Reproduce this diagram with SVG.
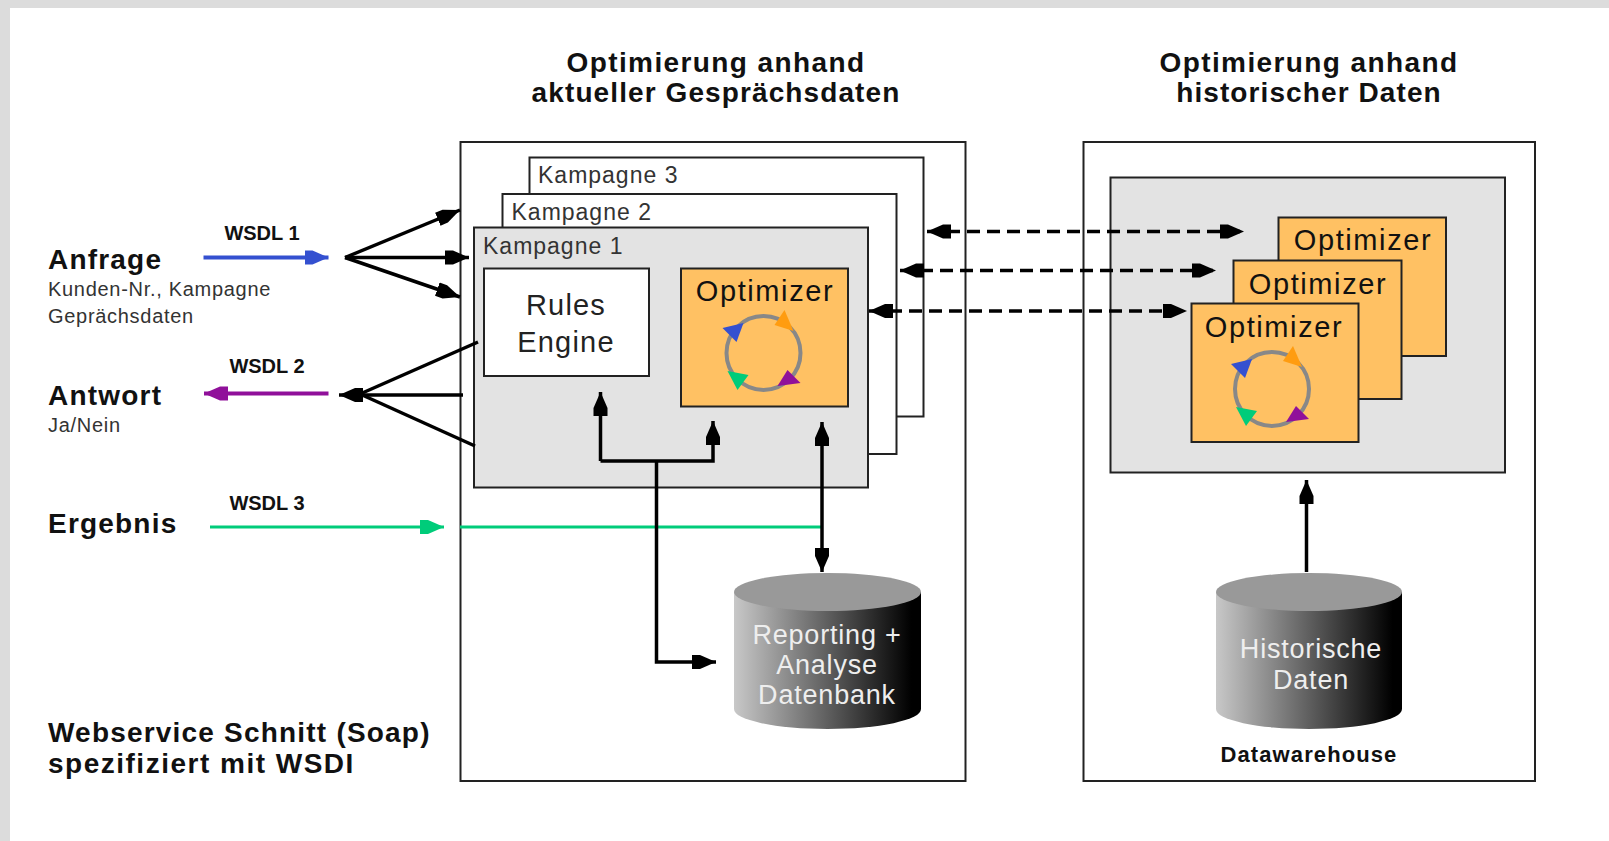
<svg xmlns="http://www.w3.org/2000/svg" xmlns:xlink="http://www.w3.org/1999/xlink" width="1609" height="841" viewBox="0 0 1609 841">
<style>
text{font-family:"Liberation Sans",Arial,sans-serif;fill:#111}
.h{font-weight:bold;font-size:28px;text-anchor:middle;letter-spacing:1.4px}
.h2{letter-spacing:1.1px}
.b{font-weight:bold;font-size:28px;letter-spacing:1.2px}
.s{font-size:20px;fill:#333;letter-spacing:.7px}
.w{font-weight:bold;font-size:20px;text-anchor:middle}
.k{font-size:23px;fill:#333;letter-spacing:1px}
.o{font-size:29px;text-anchor:middle;letter-spacing:1.6px}
.r{font-size:29px;text-anchor:middle;fill:#222;letter-spacing:1.2px}
.d{font-size:27px;text-anchor:middle;fill:#eee;letter-spacing:.8px}
.box{stroke:#222;stroke-width:2}
.wh{fill:#fff}.gr{fill:#e3e3e3}.or{fill:#ffc163}
.ln{fill:none;stroke:#000;stroke-width:3.5}
.da{stroke-dasharray:13 7}
.blue{stroke:#3450d0;stroke-width:4;fill:none}
.pur{stroke:#90109a;stroke-width:4;fill:none}
.grn{stroke:#00cc7a;stroke-width:3;fill:none}
.ring{fill:none;stroke:#888;stroke-width:4}
</style>
<defs>
<marker id="ak" markerUnits="userSpaceOnUse" markerWidth="26" markerHeight="18" refX="24" refY="9" orient="auto-start-reverse"><path d="M0 2 L8 2 L24 9 L8 16 L0 16Z" fill="#000"/></marker>
<marker id="ab" markerUnits="userSpaceOnUse" markerWidth="26" markerHeight="18" refX="24" refY="9" orient="auto"><path d="M0 2 L8 2 L24 9 L8 16 L0 16Z" fill="#3450d0"/></marker>
<marker id="ap" markerUnits="userSpaceOnUse" markerWidth="26" markerHeight="18" refX="24" refY="9" orient="auto"><path d="M0 2 L8 2 L24 9 L8 16 L0 16Z" fill="#90109a"/></marker>
<marker id="ag" markerUnits="userSpaceOnUse" markerWidth="26" markerHeight="18" refX="24" refY="9" orient="auto"><path d="M0 2 L8 2 L24 9 L8 16 L0 16Z" fill="#00cc7a"/></marker>
<linearGradient id="cyl" x1="0" x2="1" y1="0" y2="0"><stop offset="0" stop-color="#c8c8c8"/><stop offset="0.95" stop-color="#000"/><stop offset="1" stop-color="#000"/></linearGradient>
<g id="loop">
<circle cx="0" cy="0" r="37" class="ring"/>
<path d="M-41 -25 L-20 -30 L-27 -11Z" fill="#3450d0"/>
<path d="M21 -43 L30 -22 L11 -28Z" fill="#ff9c10"/>
<path d="M24 17 L37 30 L14 33Z" fill="#90109a"/>
<path d="M-36 18 L-15 22 L-26 37Z" fill="#00cc7a"/>
</g>
</defs>
<rect width="1609" height="841" fill="#fff"/>
<rect width="1609" height="8" fill="#dcdcdc"/>
<rect width="10" height="841" fill="#dcdcdc"/>

<g id="title-left"><text class="h" x="716" y="72">Optimierung anhand</text><text class="h h2" x="716" y="102">aktueller Gesprächsdaten</text></g>
<g id="title-right"><text class="h" x="1309" y="72">Optimierung anhand</text><text class="h h2" x="1309" y="102">historischer Daten</text></g>

<g id="box-main"><rect class="box wh" x="460.5" y="142" width="505" height="639"/></g>
<g id="box-hist"><rect class="box wh" x="1083.5" y="142" width="451.5" height="639"/></g>

<g id="kampagne-3"><rect class="box wh" x="529.5" y="157.5" width="394" height="259"/><text class="k" x="538" y="183">Kampagne 3</text></g>
<g id="kampagne-2"><rect class="box wh" x="502.5" y="194" width="394" height="260"/><text class="k" x="511.5" y="220">Kampagne 2</text></g>
<g id="kampagne-1"><rect class="box gr" x="474" y="227.5" width="394" height="260"/><text class="k" x="483" y="254">Kampagne 1</text></g>

<g id="rules-engine"><rect class="box wh" x="484" y="268.5" width="165" height="107.5"/><text class="r" x="566" y="315">Rules</text><text class="r" x="566" y="352">Engine</text></g>
<g id="optimizer-main"><rect class="box or" x="681" y="268.5" width="167" height="138"/><text class="o" x="765" y="301">Optimizer</text><use xlink:href="#loop" href="#loop" x="763.5" y="353"/></g>

<g id="hist-pool"><rect class="box gr" x="1110.5" y="177.5" width="394.5" height="295"/></g>
<g id="optimizer-3"><rect class="box or" x="1278.5" y="217.5" width="167.5" height="138.5"/><text class="o" x="1363" y="250">Optimizer</text></g>
<g id="optimizer-2"><rect class="box or" x="1233.5" y="260.5" width="168" height="138.5"/><text class="o" x="1318" y="294">Optimizer</text></g>
<g id="optimizer-1"><rect class="box or" x="1191.5" y="303.5" width="167" height="138.5"/><text class="o" x="1274" y="337">Optimizer</text><use xlink:href="#loop" href="#loop" x="1272" y="389"/></g>

<g id="db-reporting"><path d="M734 592 V709 A93.5 20 0 0 0 921 709 V592Z" fill="url(#cyl)"/><ellipse cx="827.5" cy="592" rx="93.5" ry="19" fill="#999"/><text class="d" x="827" y="644">Reporting +</text><text class="d" x="827" y="674">Analyse</text><text class="d" x="827" y="704">Datenbank</text></g>
<g id="db-hist"><path d="M1216 592 V709 A93 20 0 0 0 1402 709 V592Z" fill="url(#cyl)"/><ellipse cx="1309" cy="592" rx="93" ry="19" fill="#999"/><text class="d" x="1311" y="658">Historische</text><text class="d" x="1311" y="689">Daten</text></g>
<g id="dw-label"><text x="1309" y="762" style="font-weight:bold;font-size:22px;text-anchor:middle;letter-spacing:1.1px">Datawarehouse</text></g>

<g id="labels">
<text class="b" x="48" y="269">Anfrage</text>
<text class="s" x="48" y="296">Kunden-Nr., Kampagne</text>
<text class="s" x="48" y="323">Geprächsdaten</text>
<text class="b" x="48" y="405">Antwort</text>
<text class="s" x="48" y="432">Ja/Nein</text>
<text class="b" x="48" y="533">Ergebnis</text>
<text class="w" x="262" y="240">WSDL 1</text>
<text class="w" x="267" y="373">WSDL 2</text>
<text class="w" x="267" y="510">WSDL 3</text>
<text class="b" x="48" y="742">Webservice Schnitt (Soap)</text>
<text class="b" x="48" y="773" style="letter-spacing:1.5px">spezifiziert mit WSDI</text>
</g>

<g id="connectors">
<line class="blue" x1="203.5" y1="257.5" x2="328.5" y2="257.5" marker-end="url(#ab)"/>
<line class="pur" x1="328.5" y1="393.5" x2="204" y2="393.5" marker-end="url(#ap)"/>
<line class="grn" x1="210" y1="527" x2="444" y2="527" marker-end="url(#ag)"/>
<line class="grn" x1="460" y1="527" x2="821" y2="527"/>
<path class="ln" d="M345 257.5 L460 210" marker-end="url(#ak)"/>
<path class="ln" d="M345 257.5 H469" marker-end="url(#ak)"/>
<path class="ln" d="M345 257.5 L460 297" marker-end="url(#ak)"/>
<path class="ln" d="M478 342 L360 394"/>
<path class="ln" d="M463 395 H339" marker-end="url(#ak)"/>
<path class="ln" d="M475 446 L360 394"/>
<path class="ln" d="M600.5 461 V392" marker-end="url(#ak)"/>
<path class="ln" d="M600.5 461 H713 V421" marker-end="url(#ak)"/>
<path class="ln" d="M656.5 461 V662 H716" marker-end="url(#ak)"/>
<path class="ln" d="M822 422 V572" marker-start="url(#ak)" marker-end="url(#ak)"/>
<path class="ln" d="M1306.5 572 V480" marker-end="url(#ak)"/>
<path class="ln da" d="M927 231.5 H1244" marker-start="url(#ak)" marker-end="url(#ak)"/>
<path class="ln da" d="M900 270.5 H1216" marker-start="url(#ak)" marker-end="url(#ak)"/>
<path class="ln da" d="M869 311 H1187" marker-start="url(#ak)" marker-end="url(#ak)"/>
</g>
</svg>
